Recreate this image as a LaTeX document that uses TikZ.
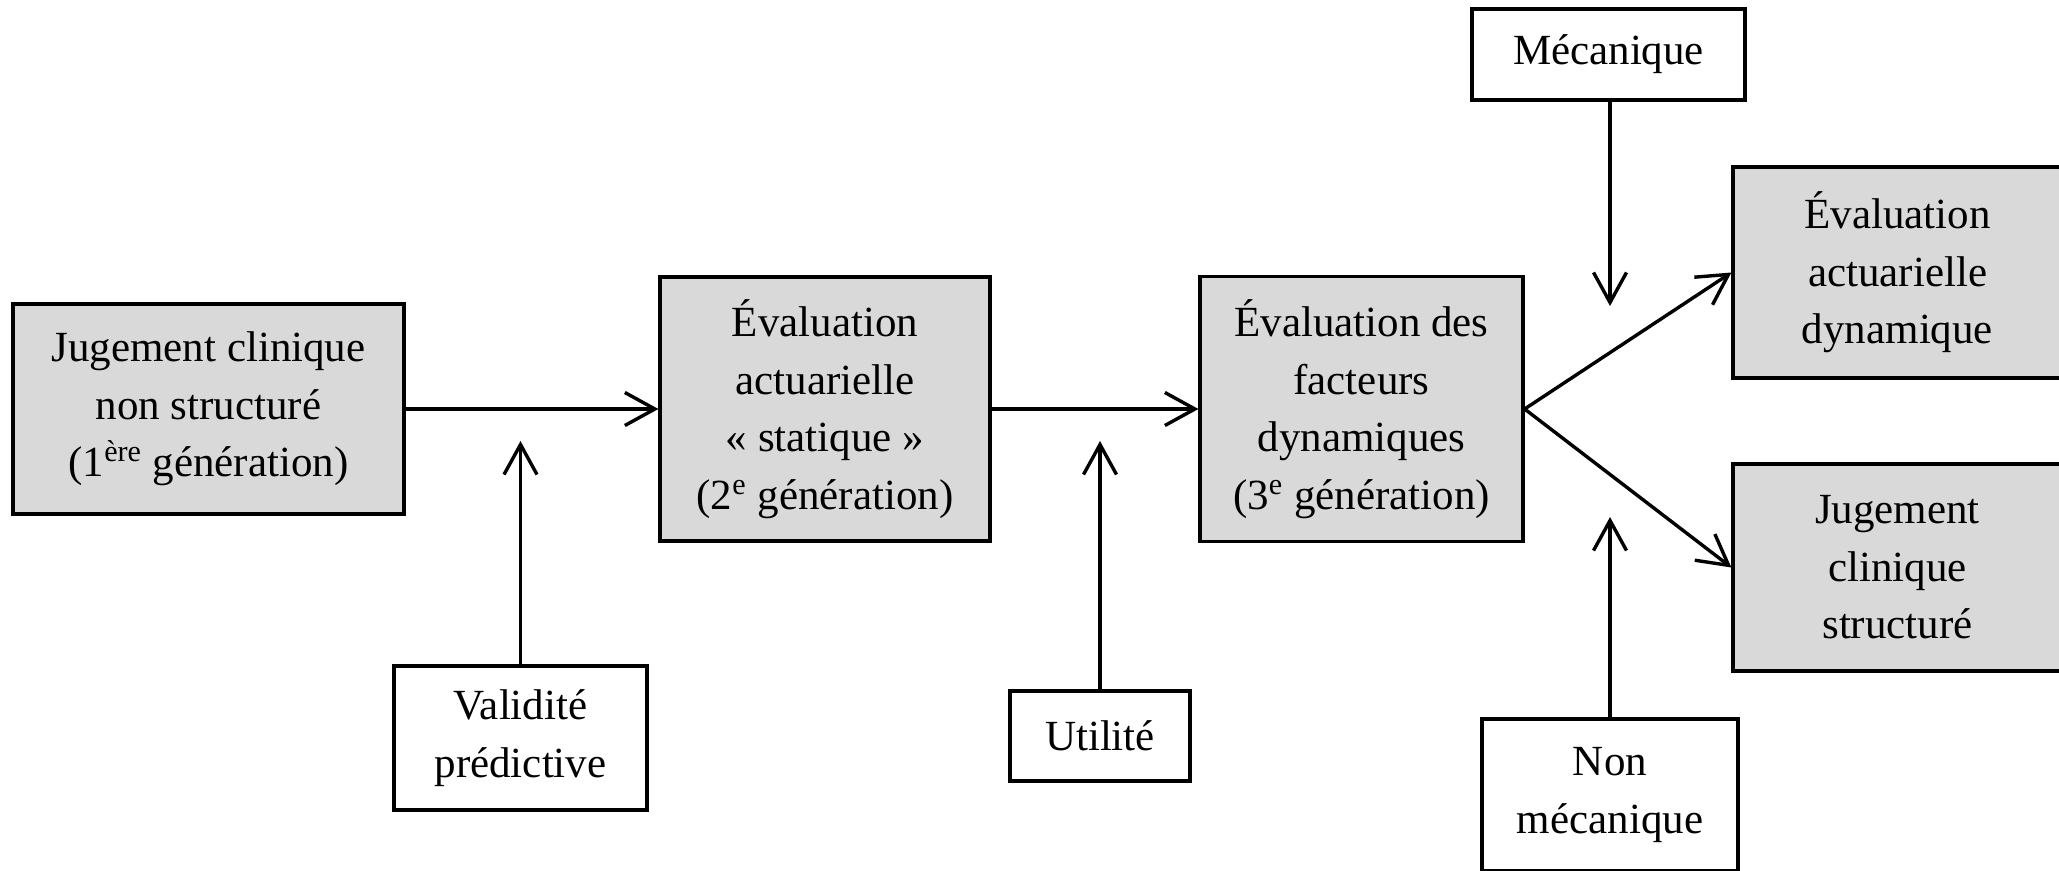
\documentclass[tikz,border=0pt]{standalone}
\usepackage{fontspec}
\setmainfont{Liberation Serif}
\usetikzlibrary{arrows.meta}
\definecolor{boxgray}{HTML}{D9D9D9}
\tikzset{
  base/.style={draw=black, line width=1.6pt, rectangle, align=center, inner sep=0pt,
    font=\fontsize{21.5}{28.75}\selectfont},
  graybox/.style={base, fill=boxgray},
  whitebox/.style={base, fill=white},
  conn/.style={line width=1.7pt, -{Straight Barb[length=15pt,width=16.5pt,line width=1.7pt]}},
}
\begin{document}
\begin{tikzpicture}[x=0.5pt,y=-0.5pt]
\useasboundingbox (0,0) rectangle (2059,871);
\clip (0,0) rectangle (2059,871);
% main boxes
\node[graybox, minimum width=195.5pt, minimum height=105pt] (b1) at (208.5,409)
  {Jugement clinique\\non structuré\\(1\textsuperscript{ère} génération)};
\node[graybox, minimum width=165pt, minimum height=132pt] (b2) at (825,409)
  {Évaluation\\actuarielle\\«~statique~»\\(2\textsuperscript{e} génération)};
\node[graybox, minimum width=161.5pt, minimum height=132.5pt] (b3) at (1361.5,409)
  {Évaluation des\\facteurs\\dynamiques\\(3\textsuperscript{e} génération)};
\node[graybox, minimum width=164.5pt, minimum height=105.5pt] (b4) at (1897.5,272.5)
  {Évaluation\\actuarielle\\dynamique};
\node[graybox, minimum width=164.5pt, minimum height=103.5pt] (b5) at (1897.5,567.5)
  {Jugement\\clinique\\structuré};
% factor boxes
\node[whitebox, minimum width=126.5pt, minimum height=72pt] (vp) at (520.5,738)
  {Validité\\prédictive};
\node[whitebox, minimum width=90pt, minimum height=45pt] (ut) at (1100,736)
  {Utilité};
\node[whitebox, minimum width=136.5pt, minimum height=45.5pt] (me) at (1608.5,54.5)
  {Mécanique};
\node[whitebox, minimum width=128pt, minimum height=76pt] (nm) at (1610,795)
  {Non\\mécanique};
% free ends
\coordinate (tvp) at (vp.north |- 0,441);
\coordinate (tut) at (ut.north |- 0,441);
\coordinate (tme) at (1610,306);
\coordinate (tnm) at (1610,517);
% connectors
\draw[conn] (b1.east) -- (b2.west);
\draw[conn] (b2.east) -- (b3.west);
\draw[conn] (b3.east) -- (b4.west);
\draw[conn] (b3.east) -- (b5.west);
\draw[conn] (vp.north) -- (tvp);
\draw[conn] (ut.north) -- (tut);
\draw[conn] (1610,0 |- me.south) -- (tme);
\draw[conn] (nm.north) -- (tnm);
\end{tikzpicture}
\end{document}
